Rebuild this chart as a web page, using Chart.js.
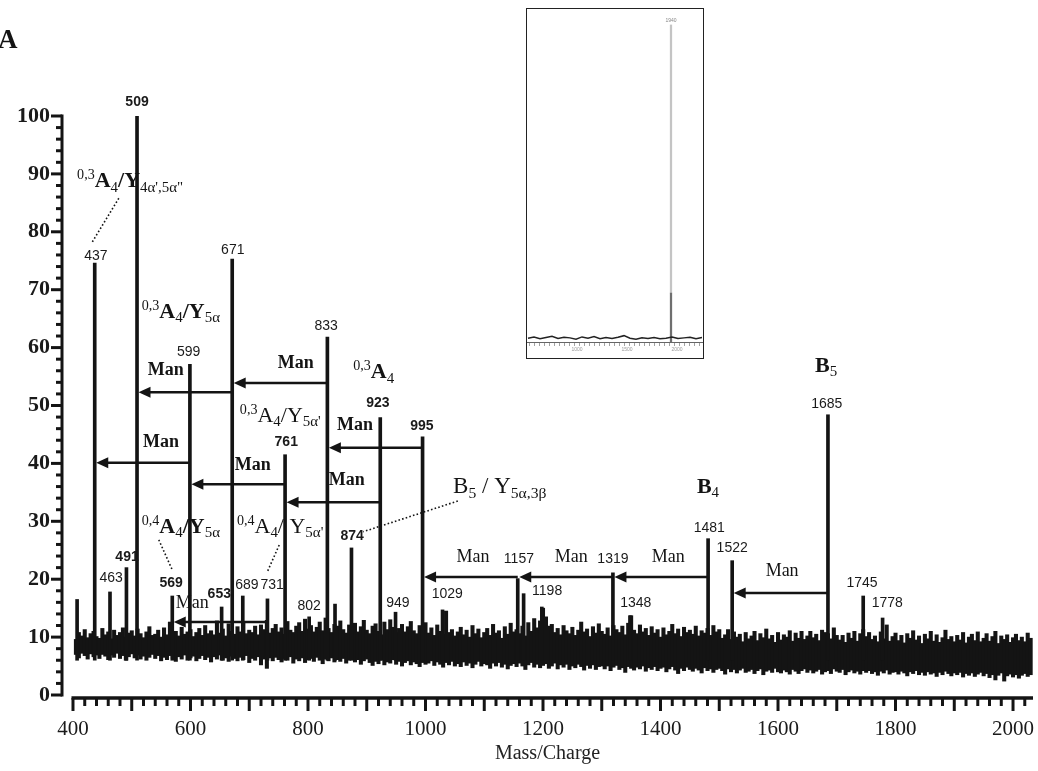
<!DOCTYPE html>
<html>
<head>
<meta charset="utf-8">
<script src="https://cdn.jsdelivr.net/npm/chart.js@4.4.1/dist/chart.umd.min.js"></script>
<style>
  html, body { margin: 0; padding: 0; background: #fff; }
  #wrap { position: relative; width: 1038px; height: 771px; overflow: hidden; }
  #main { position: absolute; left: 0; top: 0; }
  #insetBox { position: absolute; left: 526px; top: 8px; width: 176px; height: 349px; border: 1.5px solid #222; background: #fff; }
  #inset { display: block; }
</style>
</head>
<body>
<div id="wrap">
  <canvas id="main" width="1038" height="771"></canvas>
  <div id="insetBox"><canvas id="inset" width="176" height="349"></canvas></div>
</div>
<script>
// --- bruit de fond : une case tous les 5 m/z, de 405 a 2030 (haut / bas de la bande) ---
const noiseStart = 405;
const noiseStep = 5;
const noiseHigh = [
  9.6, 10.8, 10.2, 11.3, 9.9, 10.6, 11.0, 10.1, 9.8, 11.5,
  10.4, 10.9, 9.7, 11.2, 10.3, 10.8, 11.6, 10.0, 10.7, 11.1,
  10.2, 11.4, 10.6, 9.9, 10.9, 11.8, 10.3, 10.5, 11.2, 10.0,
  11.6, 10.4, 12.6, 10.8, 11.0, 10.2, 11.7, 10.5, 10.9, 11.3,
  10.1, 10.8, 11.5, 10.3, 12.0, 10.6, 11.1, 10.4, 12.8, 10.7,
  11.4, 10.2, 12.3, 11.0, 10.5, 11.8, 10.9, 12.4, 10.6, 11.2,
  10.8, 11.9, 10.4, 12.1, 11.3, 12.9, 10.7, 11.5, 12.2, 10.9,
  11.6, 10.5, 12.7, 11.2, 10.8, 11.9, 12.5, 11.0, 13.1, 11.4,
  12.0, 10.9, 11.7, 12.6, 11.1, 13.3, 11.5, 10.8, 12.2, 11.9,
  12.8, 11.3, 10.7, 12.1, 11.6, 12.4, 10.9, 11.8, 12.9, 11.2,
  10.6, 11.9, 12.3, 11.0, 10.4, 12.6, 11.3, 13.0, 11.7, 10.8,
  11.5, 12.2, 10.9, 11.8, 12.7, 11.1, 10.6, 12.0, 11.4, 12.5,
  10.7, 11.6, 10.3, 12.1, 11.0, 10.5, 14.5, 10.8, 11.3, 10.2,
  10.9, 11.7, 10.4, 11.2, 10.0, 12.0, 10.6, 11.4, 9.9, 10.8,
  11.5, 10.3, 12.2, 10.7, 11.1, 9.8, 11.8, 10.5, 12.4, 10.9,
  11.3, 10.6, 11.9, 10.2, 12.5, 11.0, 13.2, 11.6, 12.8, 15.0,
  13.5, 11.9, 12.2, 10.8, 11.5, 10.4, 12.0, 11.1, 10.6, 11.7,
  10.3, 11.2, 12.6, 10.9, 11.4, 10.1, 11.8, 10.7, 12.3, 11.0,
  10.5, 11.6, 10.2, 12.0, 11.3, 10.8, 11.9, 10.4, 12.4, 13.7,
  11.2, 10.6, 12.1, 10.9, 11.5, 10.3, 11.8, 10.7, 11.3, 10.0,
  11.6, 10.4, 11.0, 12.2, 10.6, 11.4, 10.1, 11.7, 10.8, 11.2,
  10.5, 11.9, 10.2, 11.1, 10.7, 11.5, 10.3, 12.0, 10.9, 11.3,
  9.8, 10.4, 11.3, 9.6, 10.9, 10.0, 10.5, 9.2, 10.8, 9.7,
  10.2, 11.0, 9.4, 10.6, 9.9, 11.4, 9.7, 10.3, 9.1, 10.8,
  9.5, 10.4, 10.0, 11.1, 9.3, 10.7, 9.8, 11.0, 9.6, 10.2,
  11.0, 9.9, 10.5, 9.4, 11.2, 10.8, 10.6, 9.7, 11.6, 10.3,
  9.5, 10.3, 9.1, 10.7, 9.8, 11.0, 9.3, 10.6, 11.3, 10.1,
  10.8, 9.6, 10.2, 9.2, 10.9, 9.7, 12.1, 9.3, 10.1, 10.7,
  9.4, 10.3, 9.0, 10.6, 9.8, 11.1, 9.5, 10.2, 8.9, 10.5,
  9.7, 11.0, 9.3, 10.4, 9.1, 9.9, 11.2, 9.6, 10.1, 9.2,
  10.3, 9.5, 10.8, 9.0, 10.0, 10.5, 9.4, 10.9, 9.2, 9.8,
  10.6, 9.3, 10.1, 11.0, 8.9, 10.2, 9.6, 10.4, 9.1, 9.9,
  10.5, 9.4, 10.0, 9.2, 10.7, 9.8
];
const noiseLow = [
  7.0, 6.4, 7.2, 6.8, 6.2, 7.1, 6.6, 6.9, 6.3, 7.0,
  6.7, 6.1, 6.9, 6.5, 7.2, 6.3, 6.8, 6.0, 6.6, 7.1,
  6.4, 6.9, 6.2, 6.7, 6.0, 6.5, 7.0, 6.3, 6.8, 5.9,
  6.5, 6.1, 6.8, 6.3, 5.8, 6.6, 6.2, 6.9, 6.0, 6.4,
  6.7, 5.9, 6.3, 6.8, 6.1, 6.5, 5.7, 6.6, 6.2, 6.9,
  6.0, 6.4, 5.8, 6.7, 6.3, 5.9, 6.5, 6.1, 6.8, 5.6,
  6.3, 6.0, 6.6, 5.2, 6.2, 4.6, 6.4, 5.9, 6.5, 6.1,
  5.7, 6.3, 6.0, 6.6, 5.5, 6.2, 5.9, 6.4, 5.6, 6.1,
  6.3, 5.8, 6.5, 6.0, 5.4, 6.2, 5.9, 6.4, 5.7, 6.1,
  5.8, 6.3, 5.5, 6.0, 6.4, 5.7, 6.1, 5.3, 5.9, 6.2,
  5.6, 5.1, 5.8, 5.4, 6.0, 5.2, 5.7, 5.5, 6.1, 5.3,
  5.8, 5.0, 5.6, 5.9, 5.2, 5.7, 5.4, 4.9, 5.6, 5.3,
  5.5, 5.9, 5.1, 5.7, 5.3, 4.8, 5.6, 5.2, 5.8, 5.0,
  5.4, 4.9, 5.7, 5.1, 5.5, 4.7, 5.3, 5.8, 5.0, 5.4,
  5.2, 4.6, 5.5, 5.0, 5.6, 4.8, 5.3, 4.5, 5.1, 5.4,
  4.9, 5.5, 5.0, 4.4, 5.2, 5.6, 4.8, 5.3, 4.7, 5.1,
  5.4, 4.6, 5.0, 5.5, 4.5, 5.2, 4.8, 5.3, 4.4, 5.0,
  4.7, 5.3, 4.9, 4.3, 5.1, 4.6, 5.2, 4.4, 4.9, 5.0,
  4.5, 5.0, 4.2, 4.8, 5.1, 4.4, 4.7, 3.9, 4.9, 4.6,
  4.3, 4.8, 4.5, 5.0, 4.1, 4.7, 4.4, 4.9, 4.2, 4.6,
  4.8, 4.0, 4.5, 4.9, 4.3, 3.7, 4.6, 4.2, 4.8, 4.4,
  4.1, 4.6, 4.3, 3.8, 4.7, 4.2, 4.5, 3.9, 4.4, 4.6,
  4.2, 3.6, 4.5, 4.0, 4.4, 3.8, 4.3, 4.6, 3.9, 4.1,
  4.4, 3.7, 4.2, 4.5, 3.5, 4.1, 4.3, 3.9, 4.6, 4.0,
  3.8, 4.3, 4.0, 3.6, 4.4, 4.1, 3.7, 4.2, 4.5, 3.9,
  4.3, 3.8, 4.1, 4.4, 3.6, 4.0, 4.2, 3.7, 4.5, 4.1,
  3.9, 4.4, 3.5, 4.0, 4.3, 3.8, 4.1, 3.6, 4.2, 3.9,
  4.2, 3.7, 4.0, 3.4, 4.1, 3.8, 4.3, 3.6, 3.9, 4.0,
  3.6, 4.1, 3.8, 3.3, 4.0, 3.7, 4.2, 3.5, 3.9, 3.4,
  4.0, 3.6, 3.8, 3.2, 3.9, 3.5, 4.1, 3.7, 3.3, 3.8,
  3.5, 3.9, 3.1, 3.7, 3.4, 3.8, 3.2, 3.6, 3.9, 3.3,
  3.7, 3.0, 3.5, 2.6, 3.4, 3.8, 2.4, 3.3, 3.6, 3.1,
  3.5, 2.9, 3.4, 3.7, 3.2, 3.5
];

// --- pics (m/z, intensite relative %) ---
const peakMz  = [407, 437, 463, 491, 509, 569, 599, 653, 671, 689, 731, 761, 802, 833, 846, 874, 923, 949, 995, 1029, 1157, 1167, 1198, 1319, 1348, 1481, 1522, 1685, 1745, 1778];
const peakTop = [16.5, 74.6, 17.8, 22.0, 100, 17.1, 57.1, 15.2, 75.3, 17.1, 16.6, 41.5, 13.5, 61.8, 15.7, 25.4, 47.9, 14.3, 44.6, 14.7, 20.1, 17.5, 15.2, 21.1, 13.7, 27.0, 23.2, 48.4, 17.1, 13.3];
const peakBase = 6;

// --- etiquettes des pics ---
const peakLabelText = ['509', '437', '671', '599', '833', '761', '923', '995', '874', '491', '463', '569', '653', '689', '731', '802', '949', '1029', '1157', '1198', '1319', '1348', '1481', '1522', '1685', '1745', '1778'];
const peakLabelMz   = [509, 439, 672, 597, 831, 763, 919, 994, 875, 492, 465, 567, 649, 696, 739, 802, 953, 1037, 1159, 1207, 1319, 1358, 1483, 1522, 1683, 1743, 1786];
const peakLabelY    = [102.4, 75.8, 76.9, 59.2, 63.7, 43.7, 50.4, 46.5, 27.5, 23.8, 20.2, 19.3, 17.4, 19.0, 19.0, 15.4, 15.9, 17.4, 23.5, 18.0, 23.5, 15.9, 28.8, 25.4, 50.3, 19.3, 15.9];
const peakLabelBold = [true, false, false, false, false, true, true, true, true, true, false, true, true, false, false, false, false, false, false, false, false, false, false, false, false, false, false];

// --- fleches "Man" (perte d'un mannose) ---
const arrowFrom = [833, 671, 599, 761, 923, 995, 1481, 1319, 1157, 1685, 731];
const arrowTo   = [671, 509, 437, 599, 761, 833, 1319, 1157, 995, 1522, 569];
const arrowY    = [53.9, 52.3, 40.1, 36.4, 33.3, 42.7, 20.4, 20.4, 20.4, 17.6, 12.6];
const manMz     = [779, 558, 550, 706, 866, 880, 1413, 1248, 1081, 1607, 603];
const manY      = [57.2, 56.1, 43.7, 39.6, 37.1, 46.5, 23.8, 23.8, 23.8, 21.4, 15.9];
const manBold   = [true, true, true, true, true, true, false, false, false, false, false];

// --- attributions des fragments ---
const fragParts = [
  [['sup', '0,3'], ['n', 'A'], ['sub', '4'], ['n', '/Y'], ['sub', '4α\',5α"']],
  [['sup', '0,3'], ['n', 'A'], ['sub', '4'], ['n', '/Y'], ['sub', '5α']],
  [['sup', '0,3'], ['n', 'A'], ['sub', '4']],
  [['sup', '0,3'], ['n', 'A'], ['sub', '4'], ['n', '/Y'], ['sub', '5α\'']],
  [['sup', '0,4'], ['n', 'A'], ['sub', '4'], ['n', '/Y'], ['sub', '5α']],
  [['sup', '0,4'], ['n', 'A'], ['sub', '4'], ['n', '/ Y'], ['sub', '5α\'']],
  [['n', 'B'], ['sub', '5'], ['n', ' / Y'], ['sub', '5α,3β']],
  [['n', 'B'], ['sub', '4']],
  [['n', 'B'], ['sub', '5']]
];
const fragMz   = [407, 517, 877, 684, 517, 679, 1047, 1462, 1663];
const fragY    = [87.7, 65.1, 54.7, 47.2, 28.0, 28.0, 34.9, 34.9, 55.8];
const fragBold = [true, true, true, false, true, false, false, true, true];

// --- traits pointilles (etiquette -> pic) ---
const leaderFromMz = [478, 546, 751, 1055];
const leaderFromY  = [85.8, 26.8, 25.9, 33.5];
const leaderToMz   = [432, 569, 730, 894];
const leaderToY    = [78.1, 21.6, 21.1, 28.2];

// --- axes ---
const xLabelTicks = [400, 600, 800, 1000, 1200, 1400, 1600, 1800, 2000];
const yLabelTicks = [0, 10, 20, 30, 40, 50, 60, 70, 80, 90, 100];

// --- encart (spectre complet) ---
const insetNoiseStart = 510;
const insetNoiseStep = 60;
const insetNoise = [1.2, 1.6, 1.0, 1.4, 1.8, 1.1, 1.5, 1.3, 0.9, 1.6, 1.2, 1.7, 1.0, 1.4, 1.1, 1.5, 2.0, 1.2, 0.9, 1.3, 1.1, 1.4, 1.0, 1.2, 1.6, 1.1, 1.3, 1.5, 1.0, 1.4];
const insetPeakMz = 1940;
const insetPeakSplit = 15.4;
const insetPeakTop = 100;

const SERIF = '"Liberation Serif", "Times New Roman", serif';
const SANS = '"Liberation Sans", Arial, sans-serif';
const INK = '#141414';

const noiseData = noiseHigh.map((h, i) => ({ x: noiseStart + i * noiseStep, y: [noiseLow[i], h] }));
const peakData = peakMz.map((m, i) => ({ x: m, y: [peakBase, peakTop[i]] }));

function drawRich(ctx, x, y, parts, size, bold) {
    let cx = x;
    parts.forEach(([kind, txt]) => {
        let fs = size, dy = 0, w = bold ? 'bold ' : '';
        if (kind === 'sup') { fs = size * 0.64; dy = -size * 0.36; w = ''; }
        if (kind === 'sub') { fs = size * 0.68; dy = size * 0.2; w = ''; }
        ctx.font = `${w}${fs}px ${SERIF}`;
        ctx.fillText(txt, cx, y + dy);
        cx += ctx.measureText(txt).width;
    });
}

const spectrumDecor = {
    id: 'spectrumDecor',
    afterDraw(chart) {
        const { ctx, scales: { x, y } } = chart;
        const px = v => x.getPixelForValue(v);
        const py = v => y.getPixelForValue(v);
        ctx.save();
        ctx.strokeStyle = INK;
        ctx.fillStyle = INK;

        // axe Y + graduations
        ctx.lineWidth = 3;
        ctx.beginPath();
        ctx.moveTo(y.right, py(0) + 1.5);
        ctx.lineTo(y.right, py(100) - 1.5);
        ctx.stroke();
        for (let v = 0; v <= 100; v += 2) {
            const len = v % 10 === 0 ? 11 : 6;
            ctx.beginPath();
            ctx.moveTo(y.right - len, py(v));
            ctx.lineTo(y.right, py(v));
            ctx.stroke();
        }

        // axe X + graduations
        const axisY = py(0) + 3;
        ctx.lineWidth = 3.5;
        ctx.beginPath();
        ctx.moveTo(px(400) - 1.5, axisY);
        ctx.lineTo(x.right, axisY);
        ctx.stroke();
        ctx.lineWidth = 3;
        for (let v = 400; v <= 2030; v += 20) {
            const len = v % 100 === 0 ? 13 : 8;
            ctx.beginPath();
            ctx.moveTo(px(v), axisY);
            ctx.lineTo(px(v), axisY + len);
            ctx.stroke();
        }

        // fleches
        ctx.lineWidth = 2.5;
        arrowFrom.forEach((m, i) => {
            const yy = py(arrowY[i]);
            const x0 = px(m);
            const tip = px(arrowTo[i]) + 1.5;
            ctx.beginPath();
            ctx.moveTo(x0, yy);
            ctx.lineTo(tip + 10, yy);
            ctx.stroke();
            ctx.beginPath();
            ctx.moveTo(tip, yy);
            ctx.lineTo(tip + 12, yy - 5.5);
            ctx.lineTo(tip + 12, yy + 5.5);
            ctx.closePath();
            ctx.fill();
        });

        // "Man"
        ctx.textAlign = 'center';
        ctx.textBaseline = 'middle';
        manMz.forEach((m, i) => {
            ctx.font = `${manBold[i] ? 'bold ' : ''}18px ${SERIF}`;
            ctx.fillText('Man', px(m), py(manY[i]));
        });

        // etiquettes des pics
        ctx.fillStyle = '#1a1a1a';
        peakLabelText.forEach((t, i) => {
            ctx.font = `${peakLabelBold[i] ? 'bold ' : ''}14px ${SANS}`;
            ctx.fillText(t, px(peakLabelMz[i]), py(peakLabelY[i]));
        });

        // pointilles
        ctx.save();
        ctx.setLineDash([1.6, 2.2]);
        ctx.lineWidth = 1.6;
        leaderFromMz.forEach((m, i) => {
            ctx.beginPath();
            ctx.moveTo(px(m), py(leaderFromY[i]));
            ctx.lineTo(px(leaderToMz[i]), py(leaderToY[i]));
            ctx.stroke();
        });
        ctx.restore();

        // attributions
        ctx.fillStyle = INK;
        ctx.textAlign = 'left';
        ctx.textBaseline = 'alphabetic';
        fragParts.forEach((parts, i) => {
            drawRich(ctx, px(fragMz[i]), py(fragY[i]), parts, i === 6 ? 23 : 22, fragBold[i]);
        });

        // lettre du panneau
        ctx.font = `bold 27px ${SERIF}`;
        ctx.textBaseline = 'middle';
        ctx.fillText('A', -2, 41);
        ctx.restore();
    }
};

new Chart(document.getElementById('main'), {
    type: 'bar',
    data: {
        datasets: [
            { label: 'pics', data: peakData, backgroundColor: INK, barThickness: 3, grouped: false, order: 1 },
            { label: 'bruit', data: noiseData, backgroundColor: INK, barThickness: 3.4, grouped: false, order: 2 }
        ]
    },
    options: {
        responsive: false,
        animation: false,
        layout: { padding: { top: 116, right: 5, left: 0, bottom: 0 } },
        plugins: { legend: { display: false }, tooltip: { enabled: false } },
        scales: {
            x: {
                type: 'linear',
                min: 381.3,
                max: 2034,
                offset: false,
                grid: { display: false, drawTicks: false },
                border: { display: false },
                afterBuildTicks: s => { s.ticks = xLabelTicks.map(v => ({ value: v })); },
                afterFit: s => { s.height = 76; s.paddingLeft = 0; s.paddingRight = 0; },
                ticks: {
                    padding: 22, autoSkip: false, maxRotation: 0, color: '#1a1a1a',
                    font: { family: SERIF, size: 21 },
                    callback: v => String(v)
                },
                title: {
                    display: true, text: 'Mass/Charge', color: '#222',
                    font: { family: SERIF, size: 20 },
                    padding: { top: 0, bottom: 5 }
                }
            },
            y: {
                min: 0,
                max: 100,
                grid: { display: false, drawTicks: false },
                border: { display: false },
                afterBuildTicks: s => { s.ticks = yLabelTicks.map(v => ({ value: v })); },
                afterFit: s => { s.width = 62; s.paddingTop = 0; s.paddingBottom = 0; },
                ticks: {
                    padding: 12, color: '#1a1a1a',
                    font: { family: SERIF, size: 22, weight: 'bold' },
                    callback: v => String(v)
                }
            }
        }
    },
    plugins: [spectrumDecor]
});

// --- encart ---
const insetLabel = {
    id: 'insetLabel',
    afterDraw(chart) {
        const { ctx, scales: { x, y } } = chart;
        ctx.save();
        ctx.fillStyle = '#888';
        ctx.font = `5px ${SANS}`;
        ctx.textAlign = 'center';
        ctx.textBaseline = 'bottom';
        ctx.fillText(String(insetPeakMz), x.getPixelForValue(insetPeakMz), y.getPixelForValue(insetPeakTop) - 1);
        ctx.restore();
    }
};

new Chart(document.getElementById('inset'), {
    type: 'bar',
    data: {
        datasets: [
            { type: 'line', data: insetNoise.map((v, i) => ({ x: insetNoiseStart + i * insetNoiseStep, y: v })), borderColor: '#222', borderWidth: 1.5, pointRadius: 0, tension: 0 },
            { data: [{ x: insetPeakMz, y: [0, insetPeakSplit] }], backgroundColor: '#6f6f6f', barThickness: 1.6, grouped: false },
            { data: [{ x: insetPeakMz, y: [insetPeakSplit, insetPeakTop] }], backgroundColor: '#c4c4c4', barThickness: 1.6, grouped: false }
        ]
    },
    options: {
        responsive: false,
        animation: false,
        layout: { padding: { top: 15.5, right: 0, left: 0, bottom: 0 } },
        plugins: { legend: { display: false }, tooltip: { enabled: false } },
        scales: {
            x: {
                type: 'linear', min: 500, max: 2260, offset: false,
                grid: { drawOnChartArea: false, drawTicks: true, tickLength: 4, color: '#8a8a8a', lineWidth: 0.8 },
                border: { display: true, color: '#666', width: 1 },
                afterBuildTicks: s => {
                    const t = [];
                    for (let v = 550; v <= 2250; v += 50) t.push({ value: v });
                    s.ticks = t;
                },
                afterFit: s => { s.height = 16; s.paddingLeft = 0; s.paddingRight = 0; },
                ticks: {
                    padding: 1, autoSkip: false, maxRotation: 0, color: '#9a9a9a',
                    font: { family: SANS, size: 5 },
                    callback: v => (v % 500 === 0 ? String(v) : '')
                }
            },
            y: { display: false, min: 0, max: 100 }
        }
    },
    plugins: [insetLabel]
});
</script>
</body>
</html>
